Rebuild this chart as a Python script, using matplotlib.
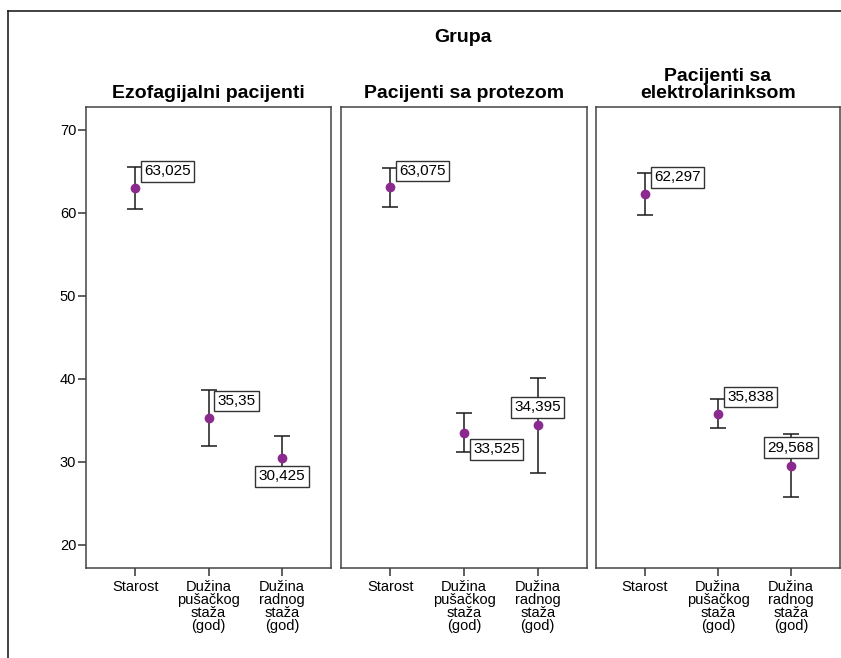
import matplotlib
matplotlib.use('Agg')
import matplotlib.pyplot as plt
from matplotlib.lines import Line2D

plt.rcParams['font.family'] = ['Liberation Sans', 'DejaVu Sans']

# Podaci: srednje vrednosti i 95% CI po grupama
grupe = ['Ezofagijalni pacijenti', 'Pacijenti sa protezom', 'Pacijenti sa\nelektrolarinksom']
varijable = ['Starost', 'Dužina\npušačkog\nstaža\n(god)', 'Dužina\nradnog\nstaža\n(god)']
sredine = [[63.025, 35.35, 30.425],
           [63.075, 33.525, 34.395],
           [62.297, 35.838, 29.568]]
donja = [[60.46, 31.97, 27.67],
         [60.70, 31.21, 28.69],
         [59.77, 34.10, 25.74]]
gornja = [[65.59, 38.71, 33.18],
          [65.40, 35.91, 40.12],
          [64.79, 37.59, 33.40]]
# polozaj oznake vrednosti: ur = gore desno, lr = dole desno, uc = gore, lc = dole
polozaj = [['ur', 'ur', 'lc'],
           ['ur', 'lr', 'uc'],
           ['ur', 'ur', 'uc']]

W, H = 841, 658
fig = plt.figure(figsize=(W / 100, H / 100), dpi=100)

# spoljni okvir (izlazi van slike desno i dole)
fig.add_artist(Line2D([8 / W, 8 / W], [1 - 11 / H, -0.1], color='#222222', lw=1.2))
fig.add_artist(Line2D([8 / W, 1.1], [1 - 11 / H, 1 - 11 / H], color='#222222', lw=1.2))

fig.text(463 / W, 1 - 41.7 / H, 'Grupa', ha='center', va='baseline',
         fontsize=14, fontweight='bold')

panel_x = [(86, 331), (341, 587), (596, 840)]
y_top, y_bot = 107.3, 568.3
purple = '#8B2A8E'
px2pt = 72 / 100

for i, (x0, x1) in enumerate(panel_x):
    ax = fig.add_axes([x0 / W, 1 - y_bot / H, (x1 - x0) / W, (y_bot - y_top) / H])
    xs = range(len(varijable))
    m = sredine[i]
    err = [[m[j] - donja[i][j] for j in xs], [gornja[i][j] - m[j] for j in xs]]
    ax.errorbar(xs, m, yerr=err, fmt='none', ecolor='#1a1a1a', elinewidth=1.1,
                capsize=6, capthick=1.1, zorder=2)
    ax.plot(xs, m, 'o', color=purple, markersize=6, zorder=4)

    for j in xs:
        lbl = str(m[j]).replace('.', ',')
        p = polozaj[i][j]
        if p == 'ur':
            off, ha = (9 * px2pt, 16.5 * px2pt), 'left'
        elif p == 'lr':
            off, ha = (9 * px2pt, -16.5 * px2pt), 'left'
        elif p == 'uc':
            off, ha = (0, 18 * px2pt), 'center'
        else:
            off, ha = (0, -18 * px2pt), 'center'
        ax.annotate(lbl, (j, m[j]), xytext=off, textcoords='offset points',
                    ha=ha, va='center', fontsize=11, zorder=5,
                    bbox=dict(boxstyle='square,pad=0.22', fc='white',
                              ec='#333333', lw=1.0))

    ax.set_xlim(-0.67, 2.67)
    ax.set_ylim(17.19, 72.73)
    ax.set_xticks(list(xs))
    ax.set_xticklabels(varijable, fontsize=10.5, linespacing=0.9)
    ax.tick_params(axis='x', length=6, width=1.1, pad=2.5, color='#333333')
    if i == 0:
        ax.set_yticks([20, 30, 40, 50, 60, 70])
        ax.tick_params(axis='y', length=6, width=1.1, pad=1, labelsize=10.5,
                       color='#333333')
    else:
        ax.set_yticks([])
    for s in ax.spines.values():
        s.set_color('#444444')
        s.set_linewidth(1.1)
    ax.set_title(grupe[i], fontsize=14, fontweight='bold', pad=6.5, linespacing=1.0)

fig.savefig('out.png', dpi=100)
